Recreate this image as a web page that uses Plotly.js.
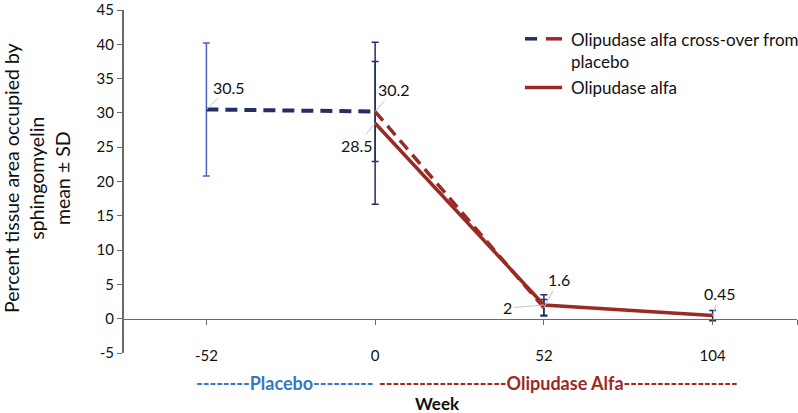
<!DOCTYPE html>
<html>
<head>
<meta charset="utf-8">
<script src="https://cdn.plot.ly/plotly-3.0.1.min.js"></script>
<style>html,body{margin:0;padding:0;background:#fff;}#chart{width:798px;height:413px;}</style>
</head>
<body>
<div id="chart"></div>
<script>
// ---- data ----
const weekLabels = ['-52', '0', '52', '104'];
const weekIdx = [0, 1, 2, 3];
const yTickVals = [-5, 0, 5, 10, 15, 20, 25, 30, 35, 40, 45];
const yTickText = ['-5', '0', '5', '10', '15', '20', '25', '30', '35', '40', '45'];
const crossoverMean = [30.5, 30.2, 1.6];      // weeks -52, 0, 52
const crossoverSD   = [9.7, 7.3, 1.2];
const olipMean = [28.5, 2, 0.45];             // weeks 0, 52, 104
const olipSD   = [11.8, 1.5, 0.75];
const olipIdx = weekIdx.slice(1);
const crossIdx = weekIdx.slice(0, 3);

const NAVY = '#232f64';
const RED = '#9a2b24';
const LBLUE = '#4a64c4';
const AX = '#6a6a6a';
const FONT = 'Lato, "Open Sans", sans-serif';

function errTrace(x, y, sd, color) {
  return {x: x, y: y, type: 'scatter', mode: 'markers', showlegend: false, hoverinfo: 'skip',
    marker: {size: 1, color: 'rgba(0,0,0,0)'},
    error_y: {type: 'data', array: sd, visible: true, color: color, thickness: 1.5, width: 3.5}};
}

const traces = [
  errTrace(crossIdx.slice(0,1), crossoverMean.slice(0,1), crossoverSD.slice(0,1), LBLUE),
  errTrace(crossIdx.slice(1), crossoverMean.slice(1), crossoverSD.slice(1), NAVY),
  errTrace(olipIdx, olipMean, olipSD, NAVY),
  {x: olipIdx, y: olipMean, type: 'scatter', mode: 'lines', showlegend: false,
   line: {color: RED, width: 3.5}},
  {x: crossIdx.slice(1), y: crossoverMean.slice(1), type: 'scatter', mode: 'lines', showlegend: false,
   line: {color: RED, width: 3.5, dash: '12px,7px'}},
  {x: crossIdx.slice(0,2), y: crossoverMean.slice(0,2), type: 'scatter', mode: 'lines', showlegend: false,
   line: {color: NAVY, width: 4, dash: '12px,7px'}}
];

function lab(x, y, text, ax, ay) {
  return {x: x, y: y, xref: 'x', yref: 'y', text: text, showarrow: true, arrowhead: 0,
    arrowwidth: 1, arrowcolor: '#c4c4c4', standoff: 0, startstandoff: 0, ax: ax, ay: ay,
    font: {family: FONT, size: 16, color: '#111'}};
}

const annotations = [
  lab(crossIdx[0], crossoverMean[0], crossoverMean[0].toFixed(1), 23, -22),
  lab(crossIdx[1], crossoverMean[1], crossoverMean[1].toFixed(1), 19, -22),
  lab(olipIdx[0], olipMean[0], olipMean[0].toFixed(1), -18, 22),
  lab(crossIdx[2], crossoverMean[2], crossoverMean[2].toFixed(1), 15, -28),
  lab(olipIdx[1], olipMean[1], String(olipMean[1]), -36, 3),
  lab(olipIdx[2], olipMean[2], String(olipMean[2]), 7, -22),
  // y title
  {xref: 'paper', yref: 'paper', x: -0.126, y: 0.51, xanchor: 'center', yanchor: 'middle',
   text: 'Percent tissue area occupied by<br>sphingomyelin<br>mean ± SD', textangle: -90,
   showarrow: false, font: {family: FONT, size: 19.5, color: '#111'}},
  // phase labels
  {xref: 'paper', yref: 'paper', x: 0.241, y: -0.088, xanchor: 'center', yanchor: 'middle',
   text: '--------Placebo---------', showarrow: false,
   font: {family: FONT, size: 18, color: '#3577c0', weight: 'bold'}},
  {xref: 'paper', yref: 'paper', x: 0.647, y: -0.088, xanchor: 'center', yanchor: 'middle',
   text: '-------------------Olipudase Alfa-----------------', showarrow: false,
   font: {family: FONT, size: 18, color: RED, weight: 'bold'}},
  {xref: 'paper', yref: 'paper', x: 0.467, y: -0.148, xanchor: 'center', yanchor: 'middle',
   text: '<b>Week</b>', showarrow: false, font: {family: FONT, size: 17, color: '#111'}},
  // legend text
  {xref: 'paper', yref: 'paper', x: 0.662, y: 0.881, xanchor: 'left', yanchor: 'middle', align: 'left',
   text: 'Olipudase alfa cross-over from<br>placebo', showarrow: false,
   font: {family: FONT, size: 17, color: '#111'}},
  {xref: 'paper', yref: 'paper', x: 0.662, y: 0.774, xanchor: 'left', yanchor: 'middle', align: 'left',
   text: 'Olipudase alfa', showarrow: false, font: {family: FONT, size: 17, color: '#111'}}
];

const shapes = [
  {type: 'line', xref: 'paper', yref: 'paper', x0: 0.597, x1: 0.615, y0: 0.916, y1: 0.916, line: {color: NAVY, width: 3.5}},
  {type: 'line', xref: 'paper', yref: 'paper', x0: 0.628, x1: 0.652, y0: 0.916, y1: 0.916, line: {color: RED, width: 3.5}},
  {type: 'line', xref: 'paper', yref: 'paper', x0: 0.597, x1: 0.652, y0: 0.774, y1: 0.774, line: {color: RED, width: 3.5}}
];

const layout = {
  width: 798, height: 413,
  margin: {l: 122, r: 1, t: 10, b: 60},
  paper_bgcolor: '#fff', plot_bgcolor: '#fff',
  showlegend: false,
  font: {family: FONT, size: 15, color: '#111'},
  xaxis: {range: [-0.5, 3.5], tickvals: weekIdx.concat([3.5]), ticktext: weekLabels.concat(['']),
    anchor: 'free', position: 0.1, showline: true, linecolor: AX, linewidth: 1.5,
    ticks: 'outside', ticklen: 5, tickcolor: AX, tickwidth: 1, ticklabelstandoff: 18,
    showgrid: false, zeroline: false, tickfont: {family: FONT, size: 15, color: '#111'}},
  yaxis: {range: [-5, 45], tickvals: yTickVals, ticktext: yTickText, anchor: 'free', position: 0,
    showline: true, linecolor: AX, linewidth: 1.5, ticks: 'outside', ticklen: 5, tickcolor: AX,
    ticklabeloverflow: 'allow', showgrid: false, zeroline: false,
    tickfont: {family: FONT, size: 15, color: '#111'}},
  annotations: annotations,
  shapes: shapes
};

Plotly.newPlot('chart', traces, layout, {staticPlot: true});
</script>
</body>
</html>
